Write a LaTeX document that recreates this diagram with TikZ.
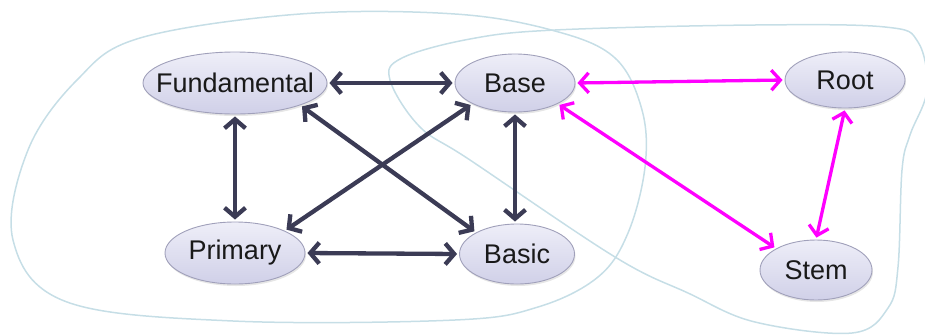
\documentclass[tikz,border=0pt]{standalone}
\usepackage{fontspec}
\setmainfont{Liberation Sans}
\usetikzlibrary{shapes.geometric,arrows.meta,shadows}
\definecolor{navy}{HTML}{3B3B55}
\definecolor{mag}{HTML}{FF00FF}
\definecolor{blob}{HTML}{C6DEE6}
\definecolor{ebord}{HTML}{A0A0BA}
\definecolor{etop}{HTML}{EEEEF8}
\definecolor{ebot}{HTML}{D0D0E8}
\tikzset{
  term/.style={ellipse, draw=ebord, line width=0.9pt, top color=etop, bottom color=ebot,
    drop shadow={opacity=0.2, shadow xshift=1pt, shadow yshift=-2pt},
    inner sep=0pt, font=\fontsize{27}{31}\selectfont, text=black!90},
  darkarrow/.style={navy, line width=4.3pt, {Straight Barb[length=9pt,width=21pt]}-{Straight Barb[length=9pt,width=21pt]}, shorten <=2pt, shorten >=2pt},
  magarrow/.style={mag, line width=3.3pt, {Straight Barb[length=9pt,width=20pt]}-{Straight Barb[length=9pt,width=20pt]}, shorten <=2pt, shorten >=2pt},
  blobline/.style={blob, line width=1.5pt}
}
\newcommand{\tx}[1]{\makebox[0pt]{#1}}
\begin{document}
\begin{tikzpicture}[x=1pt,y=-1pt]
\useasboundingbox (0,0) rectangle (925,335);
% blobs
\draw[blobline] plot[smooth cycle, tension=0.6] coordinates {
 (455,14) (555,31) (615,58) (642,110) (645,167) (628,233) (598,277) (538,307)
 (455,320) (233,321) (67,302) (13,240) (28,150) (77,80) (140,38) (300,14)};
\draw[blobline] plot[smooth cycle, tension=0.6] coordinates {
 (470,39) (555,30) (755,25) (885,27) (918,42) (927,90) (910,135) (902,170)
 (898,267) (888,308) (852,333) (755,322) (688,293) (615,257) (470,160)
 (420,127) (390,80) (402,58)};
% nodes
\node[term, minimum width=184pt, minimum height=62pt] (F) at (235,83) {\tx{Fundamental}};
\node[term, minimum width=120pt, minimum height=58pt] (B) at (515,83) {\tx{Base}};
\node[term, minimum width=120pt, minimum height=56pt] (R) at (845,80) {\tx{Root}};
\node[term, minimum width=140pt, minimum height=62pt] (P) at (235,253) {\tx{Primary}};
\node[term, minimum width=115pt, minimum height=60pt] (S) at (517,254) {\tx{Basic}};
\node[term, minimum width=112pt, minimum height=60pt] (T) at (816,270) {\tx{Stem}};
% dark connectors
\draw[darkarrow] (F.east) -- (B.west);
\draw[darkarrow] (F.south) -- (P.north);
\draw[darkarrow] (B.south) -- (B.south |- S.north);
\draw[darkarrow] (F.south east) -- (S.north west);
\draw[darkarrow] (B.south west) -- (P.north east);
\draw[darkarrow] (P.east) -- (S.west);
% magenta connectors
\draw[magarrow] (B.east) -- (R.west);
\draw[magarrow] (B.south east) -- (T.north west);
\draw[magarrow] (R.south) -- (T.north);
\end{tikzpicture}
\end{document}
